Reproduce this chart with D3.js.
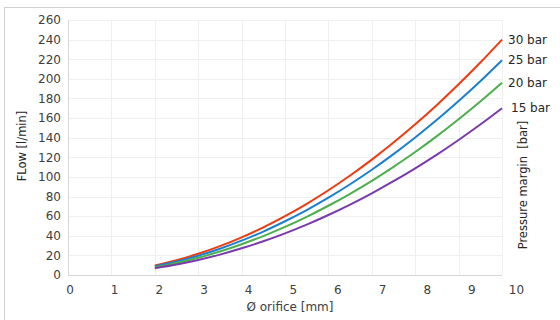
<!DOCTYPE html>
<html><head><meta charset="utf-8">
<script src="https://cdn.jsdelivr.net/npm/d3@7"></script>
<style>
html,body{margin:0;padding:0;background:#fff;}
svg{display:block;font-family:"DejaVu Sans",sans-serif;}
</style></head>
<body>
<svg id="c" width="560" height="320"></svg>
<script>
const diameters = [2,2.5,3,3.5,4,4.5,5,5.5,6,6.5,7,7.5,8,8.5,9,9.5,10];
const seriesNames = ["30 bar","25 bar","20 bar","15 bar"];
const flow30 = [9.6,15.0,21.6,29.4,38.4,48.6,60.0,72.6,86.4,101.4,117.6,135.0,153.6,173.4,194.4,216.6,240];
const flow25 = [8.8,13.7,19.7,26.8,35.0,44.3,54.8,66.2,78.8,92.5,107.3,123.2,140.2,158.2,177.4,197.6,219];
const flow20 = [7.8,12.3,17.6,24.0,31.4,39.7,49.0,59.3,70.6,82.8,96.0,110.3,125.4,141.6,158.8,176.9,196];
const flow15 = [6.8,10.6,15.3,20.8,27.2,34.4,42.5,51.4,61.2,71.8,83.3,95.6,108.8,122.8,137.7,153.4,170];
const xTicks = [0,1,2,3,4,5,6,7,8,9,10];
const yTicks = [0,20,40,60,80,100,120,140,160,180,200,220,240,260];
const colors = ["#f03a12","#1b7fd0","#4cae4c","#7a3aae"];

const svg = d3.select("#c");
const L=68, R=502, T=20, B=275;
const x = d3.scaleLinear().domain([0,10]).range([L,R]);
const xLab = d3.scaleLinear().domain([0,10]).range([69.5,516]);
const y = d3.scaleLinear().domain([0,260]).range([B,T]);

// outer frame
svg.append("rect").attr("x",4.5).attr("y",7.5).attr("width",600).attr("height",400)
  .attr("fill","none").attr("stroke","#d0d0d0").attr("stroke-width",1);

// grid
const g = svg.append("g");
g.selectAll(".hg").data(yTicks.filter(d=>d>0)).join("line")
  .attr("x1",L).attr("x2",R).attr("y1",d=>Math.round(y(d))+0.5).attr("y2",d=>Math.round(y(d))+0.5)
  .attr("stroke","#efefef").attr("stroke-width",1);
g.selectAll(".vg").data(xTicks.filter(d=>d>0)).join("line")
  .attr("y1",T).attr("y2",B).attr("x1",d=>Math.round(x(d))+0.5).attr("x2",d=>Math.round(x(d))+0.5)
  .attr("stroke","#efefef").attr("stroke-width",1);

// axis lines
svg.append("line").attr("x1",L+0.5).attr("x2",L+0.5).attr("y1",T).attr("y2",B).attr("stroke","#d6d6d6");
svg.append("line").attr("x1",L).attr("x2",R).attr("y1",B+0.5).attr("y2",B+0.5).attr("stroke","#d6d6d6");

// y axis
const ya = svg.append("g").attr("transform",`translate(${L},0)`)
  .call(d3.axisLeft(y).tickValues(yTicks).tickSize(0).tickPadding(7));
ya.select(".domain").remove();
ya.selectAll("text").attr("font-size","12px").attr("fill","#404040").attr("font-family","DejaVu Sans");

// x axis
const xa = svg.append("g").attr("transform",`translate(0,${B})`)
  .call(d3.axisBottom(xLab).tickValues(xTicks).tickSize(0).tickPadding(10));
xa.select(".domain").remove();
xa.selectAll("text").attr("font-size","12px").attr("fill","#404040").attr("font-family","DejaVu Sans");

// lines
const allSeries = [flow30,flow25,flow20,flow15];
const line = d3.line().x((d,i)=>x(diameters[i])).y(d=>y(d)).curve(d3.curveMonotoneX);
allSeries.forEach((s,k)=>{
  svg.append("path").datum(s).attr("d",line).attr("fill","none")
    .attr("stroke",colors[k]).attr("stroke-width",2);
});

// series labels
const labelDx = [6,6,6,9];
allSeries.forEach((s,k)=>{
  svg.append("text").attr("x",x(diameters[diameters.length-1])+labelDx[k])
    .attr("y",y(s[s.length-1])).attr("dy","0.35em")
    .attr("font-size","12px").attr("fill","#262626").text(seriesNames[k]);
});

// titles
svg.append("text").attr("transform","translate(26,146) rotate(-90)")
  .attr("text-anchor","middle").attr("font-size","11.5px").attr("fill","#262626").text("FLow [l/min]");
svg.append("text").attr("transform","translate(527,185) rotate(-90)")
  .attr("text-anchor","middle").attr("font-size","11.5px").attr("fill","#262626").attr("xml:space","preserve")
  .style("white-space","pre").text("Pressure margin  [bar]");
svg.append("text").attr("x",290).attr("y",311).attr("text-anchor","middle")
  .attr("font-size","12px").attr("fill","#404040").text("Ø orifice [mm]");
</script>
</body></html>
